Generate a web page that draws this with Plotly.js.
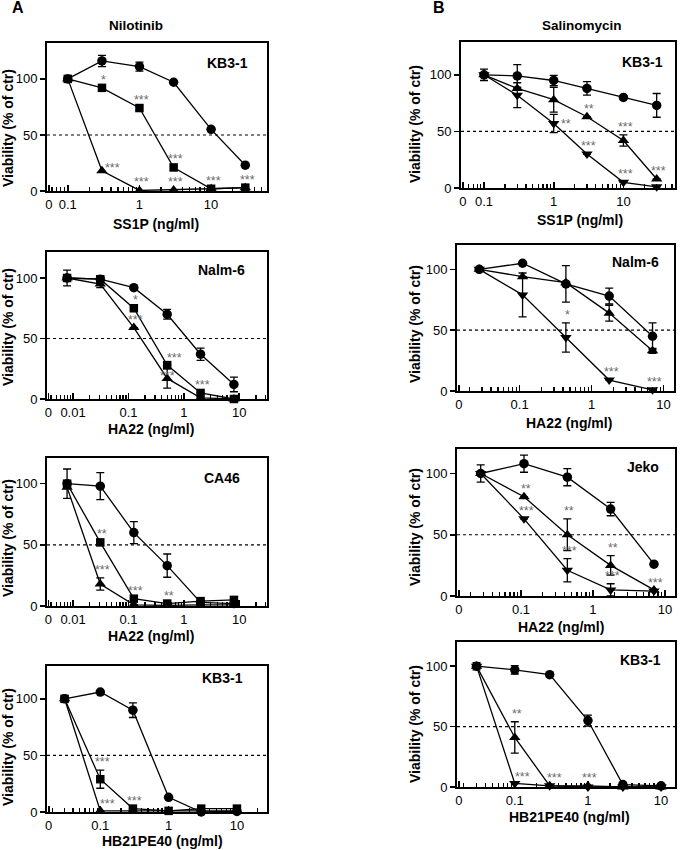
<!DOCTYPE html>
<html><head><meta charset="utf-8">
<script src="https://cdn.plot.ly/plotly-3.0.1.min.js"></script>
<style>body{margin:0;background:#fff}#chart{width:681px;height:850px}</style>
</head><body><div id="chart"></div>
<script>
// ================= DATA =================
// A1 Nilotinib, KB3-1, SS1P
const a1_x = [0.1, 0.3, 1, 3, 10, 30];
const a1_circle = [100, 116, 111, 97, 55, 23];
const a1_circle_err = [0, 5, 4, 0, 0, 0];
const a1_square = [100, 92, 74, 21, 2, 3];
const a1_square_stars = ["", "*", "***", "***", "", ""];
const a1_triangle = [100, 18, 0.5, 1, 2, 3];
const a1_triangle_stars = ["", "***", "***", "***", "***", "***"];

// A2 Nilotinib, Nalm-6, HA22
const a2_x = [0.0078, 0.031, 0.125, 0.5, 2, 8];
const a2_circle = [100, 99, 92, 70, 37, 12];
const a2_circle_err = [0, 0, 0, 4, 5, 6];
const a2_square = [100, 99, 75, 28, 5, 0];
const a2_square_err = [6.5, 0, 0, 0, 0, 0];
const a2_square_stars = ["", "", "*", "***", "***", ""];
const a2_triangle = [100, 95, 59, 17, 1, 0];
const a2_triangle_err = [0, 3, 0, 8, 0, 0];
const a2_triangle_stars = ["", "", "***", "***", "", ""];

// A3 Nilotinib, CA46, HA22
const a3_x = [0.0078, 0.031, 0.125, 0.5, 2, 8];
const a3_circle = [100, 98, 60, 33, 3, 2];
const a3_circle_err = [12, 11, 9, 9.5, 0, 0];
const a3_square = [100, 52, 6, 2, 4, 5];
const a3_square_stars = ["", "**", "***", "**", "", ""];
const a3_triangle = [97, 18, 1, 0.5, 1, 1];
const a3_triangle_err = [0, 5, 0, 0, 0, 0];
const a3_triangle_stars = ["", "***", "", "", "", ""];

// A4 Nilotinib, KB3-1, HB21PE40
const a4_x = [0.03, 0.1, 0.3, 1, 3, 10];
const a4_circle = [100, 106, 90, 13, 0, 0.5];
const a4_circle_err = [0, 0, 6.5, 0, 0, 0];
const a4_square = [100, 29, 3, 1, 3, 3];
const a4_square_err = [0, 8, 0, 0, 0, 0];
const a4_square_stars = ["", "***", "***", "", "", ""];
const a4_triangle = [100, 1, 1, 1, 1, 1];
const a4_triangle_stars = ["", "***", "", "", "", ""];

// B1 Salinomycin, KB3-1, SS1P
const b1_x = [0.1, 0.3, 1, 3, 10, 30];
const b1_circle = [100, 99, 95, 88, 80, 73];
const b1_circle_err = [5, 10, 4.5, 6, 0, 10.5];
const b1_up = [100, 88, 78, 63, 42, 8];
const b1_up_err = [0, 0, 11, 0, 5, 0];
const b1_up_stars = ["", "", "", "**", "***", "***"];
const b1_down = [100, 82, 57, 30, 5, 1];
const b1_down_err = [0, 11, 8, 0, 0, 0];
const b1_down_stars = ["", "", "**", "***", "***", ""];

// B2 Salinomycin, Nalm-6, HA22
const b2_x = [0.0275, 0.11, 0.44, 1.76, 7.04];
const b2_circle = [100, 105, 88, 78, 45];
const b2_circle_err = [0, 0, 15, 6.5, 11];
const b2_up = [100, 94, 89, 64, 33];
const b2_up_err = [0, 0, 0, 6.5, 2];
const b2_down = [100, 79, 44, 9, 1];
const b2_down_err = [0, 18, 12, 0, 0];
const b2_down_stars = ["", "", "*", "***", "***"];

// B3 Salinomycin, Jeko, HA22
const b3_x = [0.0275, 0.11, 0.44, 1.76, 7.04];
const b3_circle = [100, 108, 97, 71, 26];
const b3_circle_err = [7, 7, 7, 5.5, 0];
const b3_up = [100, 81, 50, 25, 5];
const b3_up_err = [0, 0, 13, 8, 0];
const b3_up_stars = ["", "**", "**", "**", ""];
const b3_down = [100, 63, 21, 5, 4];
const b3_down_err = [0, 0, 9.5, 5, 0];
const b3_down_stars = ["", "***", "***", "***", "***"];

// B4 Salinomycin, KB3-1, HB21PE40
const b4_x = [0.03, 0.1, 0.3, 1, 3, 10];
const b4_circle = [100, 97, 93, 55, 2, 1];
const b4_circle_err = [3, 3.5, 0, 4.5, 0, 0];
const b4_up = [100, 41, 1, 1, 0, 0];
const b4_up_err = [0, 13, 0, 0, 0, 0];
const b4_up_stars = ["", "**", "***", "***", "", ""];
const b4_down = [100, 3, 1, 0, 0, 0];
const b4_down_stars = ["", "***", "", "", "", ""];

const yTickVals = [0, 50, 100];
const yTickText = ["0", "50", "100"];
const yTitle = "Viability (% of ctr)";

// ================= LAYOUT CONFIG =================
const W = 681, H = 850;
const FONT = "Arial, 'Liberation Sans', sans-serif";
// adj: per-point star placement override, pixel offsets from the marker (not the error bar)
const S = (y, e, sym, stars, adj) => ({y, e, sym, stars, adj: adj || {}});

const panels = [
  {box:[47,43,267,191], ytop:132, xr:[-1.29,1.78], major:[0.1,1,10], majorText:["0.1","1","10"], x:a1_x,
   series:[S(a1_circle,a1_circle_err,'circle'), S(a1_square,null,'square',a1_square_stars), S(a1_triangle,null,'triangle-up',a1_triangle_stars,{1:[11,4]})],
   cell:'KB3-1', cellPos:[227,63], xt:'SS1P (ng/ml)', xtPos:[156,224], ytX:8, ytY:128},
  {box:[47,252,267,399], ytop:121.5, xr:[-2.47,1.50], major:[0.01,0.1,1,10], majorText:["0.01","0.1","1","10"], x:a2_x,
   series:[S(a2_circle,a2_circle_err,'circle'), S(a2_square,a2_square_err,'square',a2_square_stars,{3:[7,8]}), S(a2_triangle,a2_triangle_err,'triangle-up',a2_triangle_stars,{3:[0,3]})],
   cell:'Nalm-6', cellPos:[221,270], xt:'HA22 (ng/ml)', xtPos:[151,429], ytX:8, ytY:327},
  {box:[47,458,267,606], ytop:121, xr:[-2.47,1.50], major:[0.01,0.1,1,10], majorText:["0.01","0.1","1","10"], x:a3_x,
   series:[S(a3_circle,a3_circle_err,'circle'), S(a3_square,null,'square',a3_square_stars), S(a3_triangle,a3_triangle_err,'triangle-up',a3_triangle_stars)],
   cell:'CA46', cellPos:[222,478], xt:'HA22 (ng/ml)', xtPos:[151,636], ytX:8, ytY:538},
  {box:[47,666,267,812], ytop:129, xr:[-1.78,1.44], major:[0.1,1,10], majorText:["0.1","1","10"], x:a4_x,
   series:[S(a4_circle,a4_circle_err,'circle'), S(a4_square,a4_square_err,'square',a4_square_stars), S(a4_triangle,null,'triangle-up',a4_triangle_stars,{1:[7,8]})],
   cell:'KB3-1', cellPos:[222,678], xt:'HB21PE40 (ng/ml)', xtPos:[162,841], ytX:8, ytY:747},
  {box:[461,42,675,188], ytop:129, xr:[-1.33,1.74], major:[0.1,1,10], majorText:["0.1","1","10"], x:b1_x,
   series:[S(b1_circle,b1_circle_err,'circle'), S(b1_up,b1_up_err,'triangle-up',b1_up_stars), S(b1_down,b1_down_err,'triangle-down',b1_down_stars,{2:[12,0]})],
   cell:'KB3-1', cellPos:[642,62], xt:'SS1P (ng/ml)', xtPos:[580,220], ytX:415, ytY:124},
  {box:[457,245,674,391], ytop:120, xr:[-1.87,1.146], major:[0.1,1,10], majorText:["0.1","1","10"], x:b2_x,
   series:[S(b2_circle,b2_circle_err,'circle'), S(b2_up,b2_up_err,'triangle-up'), S(b2_down,b2_down_err,'triangle-down',b2_down_stars)],
   cell:'Nalm-6', cellPos:[635,262], xt:'HA22 (ng/ml)', xtPos:[569,423], ytX:415, ytY:324},
  {box:[457,449,675,596], ytop:120, xr:[-1.89,1.14], major:[0.1,1,10], majorText:["0.1","1","10"], x:b3_x,
   series:[S(b3_circle,b3_circle_err,'circle'), S(b3_up,b3_up_err,'triangle-up',b3_up_stars), S(b3_down,b3_down_err,'triangle-down',b3_down_stars)],
   cell:'Jeko', cellPos:[643,467], xt:'HA22 (ng/ml)', xtPos:[561,627], ytX:415, ytY:527},
  {box:[457,642,675,787], ytop:120, xr:[-1.79,1.19], major:[0.1,1,10], majorText:["0.1","1","10"], x:b4_x,
   series:[S(b4_circle,b4_circle_err,'circle'), S(b4_up,b4_up_err,'triangle-up',b4_up_stars,{2:[5,9]}), S(b4_down,null,'triangle-down',b4_down_stars,{1:[8,7]})],
   cell:'KB3-1', cellPos:[640,660], xt:'HB21PE40 (ng/ml)', xtPos:[569,817], ytX:415, ytY:724}
];

const px = v => v / W;
const py = v => 1 - v / H;

const data = [];
const layout = {
  width: W, height: H, margin: {l:0, r:0, t:0, b:0},
  paper_bgcolor: '#fff', plot_bgcolor: '#fff', showlegend: false,
  font: {family: FONT, color: '#000', size: 13},
  annotations: [], shapes: []
};

function minorVals(r) {
  const out = [];
  for (let k = Math.floor(r[0]) - 1; k <= Math.ceil(r[1]); k++) {
    for (let m = 2; m <= 9; m++) {
      const v = m * Math.pow(10, k);
      const lv = Math.log10(v);
      if (lv > r[0] + 0.01 && lv < r[1] - 0.01) out.push(v);
    }
  }
  return out;
}

const sizes = {'circle': 9.5, 'square': 8.5, 'triangle-up': 10, 'triangle-down': 10};

panels.forEach((p, i) => {
  const n = i + 1;
  const xa = 'xaxis' + (n === 1 ? '' : n), ya = 'yaxis' + (n === 1 ? '' : n);
  const xr = 'x' + (n === 1 ? '' : n), yr = 'y' + (n === 1 ? '' : n);
  const [l, t, r, b] = p.box;
  const zeroVal = Math.pow(10, p.xr[0] + 0.025);
  layout[xa] = {
    type: 'log', domain: [px(l), px(r)], range: p.xr, anchor: yr,
    showline: true, linewidth: 2, linecolor: '#000', mirror: true,
    showgrid: false, zeroline: false,
    ticks: 'inside', ticklen: 6, tickwidth: 1.6, tickcolor: '#000',
    tickmode: 'array', tickvals: [zeroVal].concat(p.major), ticktext: ["0"].concat(p.majorText),
    tickfont: {family: FONT, size: 13, color: '#000'},
    minor: {tickmode: 'array', tickvals: minorVals(p.xr), ticks: 'inside', ticklen: 4, tickwidth: 1.3, tickcolor: '#000', showgrid: false}
  };
  layout[ya] = {
    domain: [py(b), py(t)], range: [0, p.ytop], anchor: xr,
    showline: true, linewidth: 2, linecolor: '#000', mirror: true,
    showgrid: false, zeroline: false,
    ticks: 'outside', ticklen: 5, tickwidth: 1.6, tickcolor: '#000',
    tickmode: 'array', tickvals: yTickVals, ticktext: yTickText,
    tickfont: {family: FONT, size: 13, color: '#000'}
  };
  layout.shapes.push({type: 'line', xref: xr + ' domain', yref: yr, x0: 0, x1: 1, y0: 50, y1: 50,
    line: {color: '#000', width: 1.1, dash: 'dot'}, layer: 'below'});

  p.series.forEach(s => {
    const tr = {
      type: 'scatter', mode: 'lines+markers', x: p.x, y: s.y, xaxis: xr, yaxis: yr,
      cliponaxis: false,
      line: {color: '#000', width: 1.3},
      marker: {symbol: s.sym, size: sizes[s.sym], color: '#000'}
    };
    if (s.e) tr.error_y = {type: 'data', array: s.e, visible: true, color: '#000', thickness: 1.3, width: 4};
    data.push(tr);
    if (s.stars) {
      s.stars.forEach((st, j) => {
        if (!st) return;
        const a = s.adj[j];
        const top = s.y[j] + (a ? 0 : (s.e ? s.e[j] : 0));
        layout.annotations.push({
          xref: xr, yref: yr, x: Math.log10(p.x[j]), y: top,
          text: st, showarrow: false, font: {family: FONT, size: 12.5, color: '#6a6a6a'},
          xanchor: 'center', yanchor: 'middle',
          xshift: a ? a[0] : 2, yshift: a ? a[1] - 1 : 8
        });
      });
    }
  });

  layout.annotations.push({xref: 'paper', yref: 'paper', x: px(p.cellPos[0]), y: py(p.cellPos[1]),
    text: '<b>' + p.cell + '</b>', showarrow: false, xanchor: 'center', yanchor: 'middle',
    font: {family: FONT, size: 14, color: '#000'}});
  layout.annotations.push({xref: 'paper', yref: 'paper', x: px(p.xtPos[0]), y: py(p.xtPos[1]),
    text: '<b>' + p.xt + '</b>', showarrow: false, xanchor: 'center', yanchor: 'middle',
    font: {family: FONT, size: 14, color: '#000'}});
  layout.annotations.push({xref: 'paper', yref: 'paper', x: px(p.ytX), y: py(p.ytY),
    text: '<b>' + yTitle + '</b>', showarrow: false, textangle: -90, xanchor: 'center', yanchor: 'middle',
    font: {family: FONT, size: 14, color: '#000'}});
});

[['<b>A</b>', 18, 8, 16], ['<b>B</b>', 439, 8, 16], ['<b>Nilotinib</b>', 136, 25, 13.5], ['<b>Salinomycin</b>', 582, 25, 13.5]]
  .forEach(([t, x, y, s]) => layout.annotations.push({xref: 'paper', yref: 'paper', x: px(x), y: py(y), text: t,
    showarrow: false, xanchor: 'center', yanchor: 'middle', font: {family: FONT, size: s, color: '#000'}}));

Plotly.newPlot('chart', data, layout, {staticPlot: true, displayModeBar: false});
</script>
</body></html>
